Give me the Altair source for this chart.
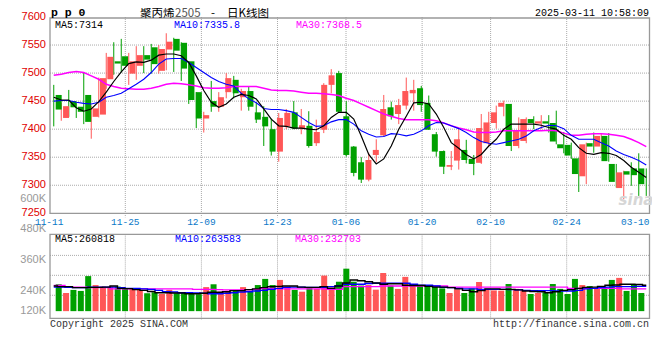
import altair as alt
import pandas as pd

# ---------------- data ----------------
opens = [7461, 7420, 7450, 7440, 7461, 7422, 7426, 7489, 7521, 7530,
         7499, 7513, 7532, 7546, 7504, 7542, 7561, 7554, 7521, 7466,
         7419, 7450, 7440, 7466, 7488, 7457, 7468, 7430, 7422, 7400,
         7360, 7405, 7430, 7401, 7406, 7375, 7399, 7479, 7500, 7423,
         7369, 7341, 7310, 7354, 7389, 7439, 7427, 7442, 7464, 7473,
         7447, 7391, 7361, 7333, 7344, 7363, 7347, 7340, 7375, 7411,
         7440, 7445, 7370, 7379, 7418, 7410, 7414, 7411, 7373, 7372,
         7348, 7316, 7375, 7369, 7388, 7338, 7295, 7325, 7330, 7330]
highs = [7479, 7447, 7470, 7447, 7501, 7442, 7492, 7536, 7555, 7561,
         7536, 7548, 7548, 7552, 7550, 7571, 7563, 7555, 7521, 7466,
         7431, 7486, 7466, 7500, 7495, 7472, 7476, 7448, 7441, 7419,
         7429, 7436, 7450, 7436, 7432, 7417, 7482, 7507, 7504, 7450,
         7370, 7350, 7358, 7382, 7461, 7449, 7454, 7492, 7488, 7477,
         7460, 7395, 7362, 7361, 7401, 7381, 7354, 7427, 7431, 7442,
         7451, 7445, 7421, 7421, 7423, 7425, 7425, 7433, 7395, 7376,
         7349, 7376, 7394, 7393, 7393, 7338, 7326, 7341, 7357, 7330]
lows = [7405, 7415, 7422, 7420, 7409, 7383, 7421, 7472, 7497, 7501,
        7479, 7488, 7500, 7499, 7499, 7505, 7502, 7486, 7445, 7402,
        7394, 7431, 7431, 7455, 7455, 7433, 7433, 7411, 7370, 7353,
        7342, 7400, 7400, 7391, 7367, 7370, 7393, 7464, 7430, 7351,
        7316, 7304, 7307, 7341, 7387, 7417, 7409, 7435, 7433, 7431,
        7399, 7351, 7320, 7327, 7328, 7339, 7318, 7338, 7369, 7401,
        7423, 7361, 7366, 7375, 7400, 7400, 7394, 7373, 7357, 7347,
        7288, 7302, 7358, 7360, 7342, 7296, 7275, 7299, 7281, 7281]
closes = [7435, 7441, 7439, 7431, 7413, 7437, 7491, 7529, 7517, 7513,
          7521, 7532, 7524, 7516, 7543, 7556, 7540, 7508, 7452, 7419,
          7425, 7440, 7457, 7491, 7464, 7468, 7440, 7417, 7405, 7360,
          7420, 7429, 7401, 7407, 7370, 7395, 7479, 7496, 7431, 7354,
          7322, 7310, 7345, 7363, 7436, 7423, 7443, 7468, 7470, 7443,
          7399, 7360, 7333, 7336, 7382, 7345, 7338, 7402, 7412, 7430,
          7447, 7370, 7397, 7418, 7411, 7414, 7410, 7378, 7366, 7353,
          7320, 7373, 7369, 7388, 7343, 7306, 7323, 7319, 7318, 7302]
ma5 = [7457, 7452, 7452, 7438, 7432, 7436, 7449, 7466, 7485, 7502,
       7517, 7520, 7519, 7523, 7532, 7534, 7534, 7531, 7519, 7495,
       7469, 7448, 7439, 7445, 7457, 7462, 7460, 7454, 7436, 7418,
       7406, 7405, 7402, 7402, 7400, 7399, 7406, 7421, 7430, 7430,
       7418, 7388, 7355, 7338, 7347, 7370, 7400, 7423, 7447, 7448,
       7445, 7427, 7403, 7376, 7366, 7355, 7347, 7355, 7370, 7382,
       7400, 7409, 7409, 7409, 7409, 7407, 7403, 7400, 7389, 7382,
       7367, 7357, 7355, 7358, 7357, 7353, 7344, 7332, 7323, 7314]
ma10 = [7450, 7451, 7451, 7448, 7446, 7445, 7448, 7457, 7460, 7464,
        7472, 7480, 7489, 7501, 7516, 7525, 7526, 7526, 7519, 7510,
        7501, 7492, 7485, 7480, 7477, 7464, 7454, 7447, 7437, 7435,
        7435, 7433, 7430, 7421, 7412, 7405, 7406, 7413, 7417, 7417,
        7409, 7397, 7391, 7386, 7387, 7392, 7391, 7388, 7391, 7397,
        7406, 7412, 7411, 7406, 7401, 7394, 7385, 7378, 7375, 7373,
        7376, 7379, 7382, 7388, 7397, 7403, 7407, 7406, 7401, 7389,
        7382, 7382, 7382, 7376, 7370, 7361, 7355, 7350, 7344, 7336]
ma30 = [7496, 7498, 7501, 7503, 7501, 7495, 7489, 7480, 7476, 7473,
        7472, 7471, 7471, 7473, 7476, 7480, 7482, 7481, 7479, 7477,
        7474, 7473, 7473, 7474, 7476, 7476, 7476, 7476, 7473, 7470,
        7469, 7469, 7468, 7466, 7464, 7464, 7463, 7462, 7460, 7455,
        7451, 7445, 7439, 7433, 7427, 7423, 7419, 7417, 7417, 7417,
        7417, 7415, 7411, 7406, 7402, 7399, 7395, 7394, 7394, 7395,
        7397, 7397, 7397, 7397, 7397, 7397, 7398, 7397, 7393, 7389,
        7389, 7391, 7392, 7392, 7391, 7389, 7387, 7382, 7376, 7369]
volumes_k = [265, 231, 243, 239, 297, 262, 256, 256, 256, 247,
             249, 243, 230, 234, 227, 243, 230, 232, 227, 226,
             254, 265, 236, 240, 240, 254, 236, 262, 286, 262,
             282, 256, 243, 236, 252, 247, 299, 253, 275, 326,
             275, 260, 262, 244, 309, 260, 247, 294, 260, 260,
             256, 256, 249, 231, 245, 231, 249, 274, 247, 241,
             240, 266, 247, 241, 227, 231, 234, 266, 247, 227,
             286, 262, 258, 249, 254, 282, 290, 239, 265, 231]
vma5_k = [258, 256, 256, 252, 252, 253, 253, 254, 258, 249,
          248, 244, 241, 237, 232, 232, 231, 231, 228, 228,
          230, 234, 234, 236, 240, 240, 244, 247, 252, 256,
          257, 258, 258, 254, 253, 253, 256, 249, 258, 270,
          282, 279, 275, 270, 265, 267, 267, 261, 260, 260,
          257, 254, 254, 252, 247, 241, 236, 240, 247, 247,
          245, 245, 243, 239, 237, 236, 232, 236, 241, 244,
          249, 253, 254, 257, 261, 262, 265, 265, 264, 261]
vma10_k = [254, 254, 253, 252, 252, 254, 254, 254, 254, 252,
           249, 249, 247, 245, 241, 236, 235, 232, 232, 231,
           230, 228, 228, 230, 232, 235, 236, 239, 241, 245,
           249, 253, 254, 254, 253, 253, 253, 256, 258, 265,
           265, 265, 268, 269, 269, 269, 269, 269, 265, 261,
           261, 258, 253, 252, 249, 247, 247, 245, 245, 245,
           245, 244, 243, 241, 240, 240, 240, 239, 239, 239,
           241, 247, 249, 252, 254, 256, 256, 256, 257, 257]
vma30_k = [260, 260, 254, 254, 254, 252, 252, 252, 247, 247,
           247, 247, 247, 247, 247, 247, 247, 247, 247, 245,
           245, 245, 244, 243, 243, 243, 243, 245, 248, 249,
           247, 247, 247, 247, 247, 247, 247, 245, 245, 256,
           256, 256, 256, 256, 258, 258, 258, 258, 258, 258,
           258, 258, 258, 254, 254, 254, 254, 254, 254, 254,
           254, 254, 254, 254, 254, 254, 254, 254, 254, 249,
           249, 249, 249, 249, 249, 249, 247, 247, 247, 247]

price_ticks = [7600, 7550, 7500, 7450, 7400, 7350, 7300, 7250]
price_grid = [7550, 7500, 7450, 7400, 7350, 7300]
vol_ticks = [600000, 480000, 360000, 240000, 120000]
vol_tick_labels = ["600K", "480K", "360K", "240K", "120K"]
vol_grid = [222000, 300000, 378000]
date_labels = ["11-11", "11-25", "12-09", "12-23", "01-06", "01-20", "02-10", "02-24", "03-10"]
date_pos = [0, 10, 20, 30, 39, 49, 58, 68, 78]

# ---------------- styling ----------------
RED, GREEN = "#ff5757", "#00a000"
MONO = "Liberation Mono"
SANS = "Liberation Sans"
CJK = "Noto Sans CJK SC"
GRID = "#aaaaaa"
BORDER = "#999999"

W, H = 600, 302
MAIN_BOTTOM = 196.3
VOL_TOP, VOL_BOTTOM = 217.4, 301.3
X_MAIN = alt.Scale(domain=[-0.5, 79.5], range=[0, W], nice=False, zero=False)
X_TICK = alt.Scale(domain=[0, 78], range=[-0.8, 592.8], nice=False, zero=False)
Y_MAIN = alt.Scale(domain=[7250, 7600], range=[MAIN_BOTTOM, 0], nice=False, zero=False)
Y_VOL = alt.Scale(domain=[132000, 460000], range=[VOL_BOTTOM, VOL_TOP], nice=False, zero=False)
VOL_BASE = 160000

n = len(closes)
df = pd.DataFrame({
    "i": list(range(n)), "open": opens, "high": highs, "low": lows, "close": closes,
    "ma5": ma5, "ma10": ma10, "ma30": ma30,
    "vol": [v * 1000 for v in volumes_k],
    "vma5": [v * 1000 for v in vma5_k],
    "vma10": [v * 1000 for v in vma10_k],
    "vma30": [v * 1000 for v in vma30_k],
})
df["col"] = [RED if c > o else GREEN for o, c in zip(opens, closes)]
df["vbase"] = VOL_BASE

base = alt.Chart(df)
X = alt.X("i:Q", scale=X_MAIN, axis=None)
COL = alt.Color("col:N", scale=None)

layers = []

# grid lines
layers.append(alt.Chart(pd.DataFrame({"p": price_grid})).mark_rule(color=GRID, strokeDash=[1, 1]).encode(
    y=alt.Y("p:Q", scale=Y_MAIN, axis=None), x=alt.value(0), x2=alt.value(W)))
layers.append(alt.Chart(pd.DataFrame({"v": vol_grid})).mark_rule(color=GRID, strokeDash=[1, 1]).encode(
    y=alt.Y("v:Q", scale=Y_VOL, axis=None), x=alt.value(0), x2=alt.value(W)))
gdf = pd.DataFrame({"d": date_pos[1:-1]})
layers.append(alt.Chart(gdf).mark_rule(color=GRID, strokeDash=[1, 1]).encode(
    x=alt.X("d:Q", scale=X_TICK, axis=None), y=alt.value(0), y2=alt.value(MAIN_BOTTOM + 4)))
layers.append(alt.Chart(gdf).mark_rule(color=GRID, strokeDash=[1, 1]).encode(
    x=alt.X("d:Q", scale=X_TICK, axis=None), y=alt.value(VOL_TOP), y2=alt.value(VOL_BOTTOM + 2)))

# panel borders
one = pd.DataFrame({"k": [0]})
layers.append(alt.Chart(one).mark_rect(filled=False, stroke=BORDER, strokeWidth=1.3).encode(
    x=alt.value(0), x2=alt.value(W - 0.5), y=alt.value(1), y2=alt.value(MAIN_BOTTOM)))
layers.append(alt.Chart(one).mark_rect(filled=False, stroke=BORDER, strokeWidth=1.3).encode(
    x=alt.value(0), x2=alt.value(W - 0.5), y=alt.value(VOL_TOP), y2=alt.value(VOL_BOTTOM)))

# candles
layers.append(base.mark_rule(strokeWidth=1).encode(
    X, y=alt.Y("low:Q", scale=Y_MAIN, axis=None), y2="high:Q", color=COL))
layers.append(base.mark_bar(size=6).encode(
    X, y=alt.Y("open:Q", scale=Y_MAIN, axis=None), y2="close:Q", color=COL))

# moving averages (price)
for f, c, w in [("ma30", "#ff00ff", 1.5), ("ma10", "#0000ff", 1.1), ("ma5", "#000000", 1.2)]:
    layers.append(base.mark_line(color=c, strokeWidth=w).encode(
        X, y=alt.Y(f"{f}:Q", scale=Y_MAIN, axis=None)))

# volume bars + moving averages
layers.append(base.mark_bar(size=6).encode(
    X, y=alt.Y("vol:Q", scale=Y_VOL, axis=None), y2="vbase:Q", color=COL))
for f, c in [("vma30", "#ff00ff"), ("vma10", "#0000ff"), ("vma5", "#000000")]:
    layers.append(base.mark_line(color=c, strokeWidth=1.4, interpolate="step").encode(
        X, y=alt.Y(f"{f}:Q", scale=Y_VOL, axis=None)))

# axis labels
layers.append(alt.Chart(pd.DataFrame({"p": price_ticks})).mark_text(
    align="right", baseline="middle", color="#e00000", font=SANS, fontSize=11).encode(
    y=alt.Y("p:Q", scale=Y_MAIN, axis=None), x=alt.value(-4), text=alt.Text("p:Q", format="d")))
vl = pd.DataFrame({"v": vol_ticks, "t": vol_tick_labels})
vl["pos"] = vl["v"].clip(lower=VOL_BASE)
layers.append(alt.Chart(vl).mark_text(
    align="right", baseline="middle", color="#999999", font=SANS, fontSize=11).encode(
    y=alt.Y("pos:Q", scale=Y_VOL, axis=None), x=alt.value(-4), text="t:N"))
dl = pd.DataFrame({"d": date_pos[:-1], "t": date_labels[:-1]})
layers.append(alt.Chart(dl).mark_text(
    align="center", baseline="middle", color="#0a78c8", font=MONO, fontSize=9.5).encode(
    x=alt.X("d:Q", scale=X_TICK, axis=None), y=alt.value(204.7), text="t:N"))


def txt(t, x, y, color, size, font=MONO, align="left", weight="normal", style="normal", baseline="middle"):
    return alt.Chart(pd.DataFrame({"t": [t]})).mark_text(
        align=align, baseline=baseline, color=color, fontSize=size, font=font,
        fontWeight=weight, fontStyle=style).encode(text="t:N", x=alt.value(x), y=alt.value(y))


layers.append(txt(date_labels[-1], W - 0.5, 204.7, "#0a78c8", 9.5, align="right"))

# titles and legends
layers += [
    txt("p p 0", 1, -3.8, "#000000", 11.5, weight="bold"),
    txt("聚丙烯", 90, -2.6, "#000000", 11.5, font=CJK),
    txt("2505", 125, -2.6, "#555555", 11.5, font=CJK),
    txt("-", 163, -2.6, "#000000", 11.5, font=CJK, align="center"),
    txt("日K线图", 177, -2.6, "#000000", 11.5, font=CJK),
    txt("2025-03-11 10:58:09", 599, -4, "#000000", 10, align="right"),
    txt("MA5:7314", 5, 7.6, "#000000", 10),
    txt("MA10:7335.8", 124, 7.6, "#0000ff", 10),
    txt("MA30:7368.5", 246, 7.6, "#ff00ff", 10),
    txt("MA5:260818", 5, 222, "#000000", 10),
    txt("MA10:263583", 125, 222, "#0000ff", 10),
    txt("MA30:232703", 245, 222, "#ff00ff", 10),
    txt("Copyright 2025 SINA.COM", 0, 307, "#333333", 10),
    txt("http://finance.sina.com.cn", 599, 307, "#333333", 10, align="right"),
    txt("sina", 586, 183, "#d6d6d6", 15, font="DejaVu Sans", align="center", weight="bold", style="italic"),
]

chart = alt.layer(*layers).resolve_scale(x="independent", y="independent").properties(
    width=W, height=H,
    autosize=alt.AutoSizeParams(type="none"),
    padding={"left": 42, "top": 9, "right": 2, "bottom": 24},
).configure_view(stroke=None)

chart.save("out.html", embed_options={"renderer": "svg", "actions": False})
